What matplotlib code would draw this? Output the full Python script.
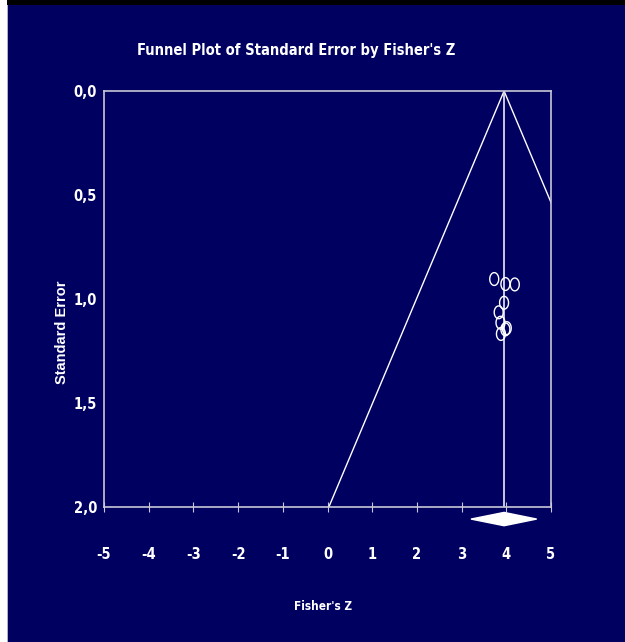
import matplotlib.pyplot as plt
import numpy as np
from matplotlib.patches import Polygon, Rectangle
from matplotlib.ticker import FuncFormatter

# Study points
fisher_z = [3.73, 3.98, 4.19, 3.95, 3.83, 3.87, 4.01, 3.98, 3.88]
std_err = [0.904, 0.928, 0.930, 1.018, 1.064, 1.114, 1.140, 1.146, 1.168]

# Summary estimate and its confidence interval (the diamond)
summary_z = 3.95
ci_low = 3.21
ci_high = 4.68

x_ticks = [-5, -4, -3, -2, -1, 0, 1, 2, 3, 4, 5]
y_ticks = [0.0, 0.5, 1.0, 1.5, 2.0]

plt.rcParams["axes.unicode_minus"] = False

navy = "#000060"
narrow = dict(family="DejaVu Sans", stretch="condensed", weight="bold")

fig = plt.figure(figsize=(6.25, 6.42), dpi=100, facecolor=navy)

# frame decorations of the original screenshot
fig.patches.append(Rectangle((0, 1 - 5 / 642), 1, 5 / 642, transform=fig.transFigure,
                             facecolor="black", edgecolor="none", zorder=10))
fig.patches.append(Rectangle((0, 0), 7 / 625, 1, transform=fig.transFigure,
                             facecolor="white", edgecolor="none", zorder=10))
fig.patches.append(Rectangle((7 / 625, 0), 1 / 625, 1 - 5 / 642, transform=fig.transFigure,
                             facecolor="#B0B0C8", edgecolor="none", zorder=10))

ax = fig.add_axes([104 / 625, 1 - 507 / 642, 447 / 625, 416 / 642])
ax.set_facecolor(navy)

# funnel (pseudo 95% limits) and vertical line at the summary
se_line = np.array([0.0, 2.0])
ax.plot(summary_z - 1.96 * se_line, se_line, color="white", lw=1.0)
ax.plot(summary_z + 1.96 * se_line, se_line, color="white", lw=1.0)
ax.plot([summary_z, summary_z], [0, 2.0], color="#D8D8E8", lw=1.3)

# study markers: open ellipses, a bit taller than wide
t = np.linspace(0, 2 * np.pi, 40)
ellipse = np.column_stack([0.7 * np.cos(t), np.sin(t)])
ax.scatter(fisher_z, std_err, marker=ellipse, s=85, facecolors="none",
           edgecolors="white", linewidths=1.0, zorder=3)

# summary diamond below the axis
diamond = Polygon([[ci_low, 2.058], [summary_z, 2.026], [ci_high, 2.058], [summary_z, 2.090]],
                  closed=True, facecolor="white", edgecolor="white", clip_on=False, zorder=4)
ax.add_patch(diamond)

ax.set_xlim(-5, 5)
ax.set_ylim(2.0, 0.0)
ax.set_xticks(x_ticks)
ax.set_yticks(y_ticks)
ax.yaxis.set_major_formatter(FuncFormatter(lambda v, p: f"{v:.1f}".replace(".", ",")))

for s in ax.spines.values():
    s.set_color("#C8C8D8")
    s.set_linewidth(1.2)

ax.tick_params(axis="x", direction="inout", length=7, width=0.8, color="#C8C8D8",
               pad=25, labelcolor="white")
ax.tick_params(axis="y", length=0, pad=5, labelcolor="white")
for lab in ax.get_xticklabels() + ax.get_yticklabels():
    lab.set_fontfamily("DejaVu Sans")
    lab.set_fontstretch("condensed")
    lab.set_fontweight("bold")
    lab.set_fontsize(10.5)

fig.text(296 / 625, 1 - 50 / 642, "Funnel Plot of Standard Error by Fisher's Z",
         color="white", fontsize=10.5, ha="center", va="center", **narrow)
fig.text(323 / 625, 1 - 607 / 642, "Fisher's Z", color="white", fontsize=8.5,
         ha="center", va="center", **narrow)
fig.text(62 / 625, 1 - 332 / 642, "Standard Error", color="white", fontsize=10.5,
         fontweight="bold", family=["Liberation Sans", "DejaVu Sans"],
         rotation=90, ha="center", va="center")

fig.savefig("out.png", dpi=100, facecolor=navy)
